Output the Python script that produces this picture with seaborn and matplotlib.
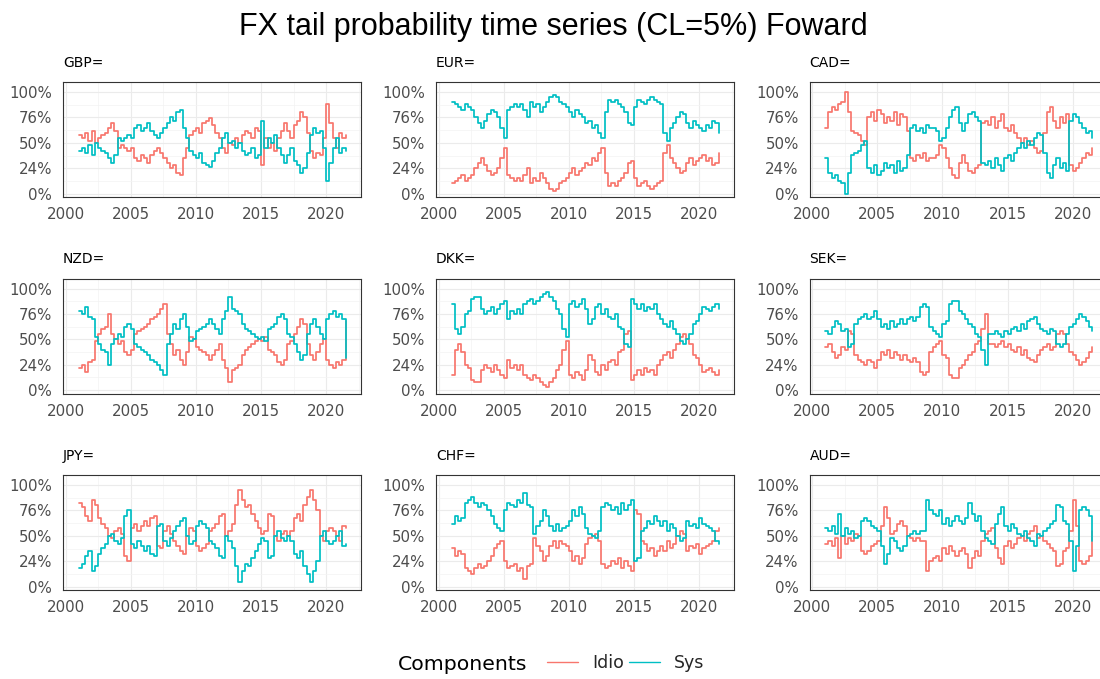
import numpy as np
import pandas as pd
import matplotlib
matplotlib.use("Agg")
import matplotlib.pyplot as plt
from matplotlib.lines import Line2D
from matplotlib.ticker import FixedLocator
import seaborn as sns

# ---------------------------------------------------------------------------
# Data: quarterly idiosyncratic share of the tail probability (percent),
# 2001Q1 .. 2021Q3; the systematic share is the complement.
# ---------------------------------------------------------------------------
currencies = ["GBP=", "EUR=", "CAD=", "NZD=", "DKK=", "SEK=", "JPY=", "CHF=", "AUD="]
components = ["Idio", "Sys"]
x_ticks = [2000, 2005, 2010, 2015, 2020]
y_ticks = [0.0, 0.25, 0.50, 0.75, 1.0]
y_tick_labels = ["0%", "24%", "50%", "76%", "100%"]
start_year = 2001.0
step_years = 0.25

gbp_idio = [58, 55, 60, 52, 62, 50, 55, 58, 60, 65, 70, 62, 45, 48, 45, 42,
            45, 35, 32, 38, 35, 30, 38, 42, 45, 40, 35, 30, 25, 28, 20, 18,
            35, 45, 58, 62, 65, 60, 70, 72, 74, 68, 60, 55, 45, 40, 50, 48,
            55, 50, 58, 62, 60, 55, 65, 62, 28, 55, 45, 50, 42, 55, 62, 70,
            62, 55, 68, 72, 80, 75, 60, 42, 35, 40, 38, 55, 88, 70, 55, 45,
            60, 55, 58]
eur_idio = [10, 12, 15, 18, 12, 15, 18, 25, 30, 35, 28, 22, 18, 20, 25, 35,
            45, 18, 15, 12, 15, 12, 18, 25, 10, 15, 12, 20, 15, 10, 5, 3,
            5, 10, 12, 15, 20, 25, 18, 22, 25, 30, 28, 35, 32, 40, 45, 20,
            8, 10, 8, 12, 15, 20, 30, 32, 15, 8, 10, 12, 8, 5, 8, 10,
            12, 40, 48, 35, 30, 25, 20, 22, 30, 35, 28, 32, 35, 38, 32, 35,
            28, 30, 40]
cad_idio = [65, 80, 85, 82, 88, 90, 100, 80, 62, 60, 58, 52, 48, 75, 80, 72,
            82, 78, 70, 75, 72, 80, 68, 78, 75, 62, 35, 32, 38, 35, 40, 32,
            35, 35, 38, 48, 45, 35, 25, 18, 15, 30, 38, 30, 22, 20, 25, 28,
            70, 72, 68, 75, 65, 72, 78, 65, 62, 68, 60, 55, 50, 55, 48, 52,
            45, 40, 42, 60, 80, 85, 72, 65, 75, 70, 78, 28, 22, 25, 30, 35,
            40, 38, 45]
nzd_idio = [22, 25, 18, 28, 30, 48, 55, 60, 62, 75, 55, 50, 45, 48, 38, 35,
            40, 55, 58, 60, 62, 65, 70, 72, 75, 80, 85, 55, 45, 35, 40, 30,
            25, 38, 52, 50, 42, 40, 38, 35, 30, 35, 40, 45, 30, 22, 8, 20,
            22, 25, 35, 40, 42, 45, 48, 50, 48, 52, 40, 38, 35, 28, 25, 30,
            45, 48, 55, 62, 70, 65, 45, 35, 30, 38, 45, 50, 30, 25, 22, 28,
            25, 30, 68]
dkk_idio = [15, 40, 45, 38, 25, 22, 10, 8, 8, 20, 25, 22, 18, 25, 20, 15,
            12, 30, 22, 25, 20, 25, 15, 12, 10, 15, 12, 8, 5, 3, 8, 12,
            20, 25, 40, 48, 15, 12, 18, 15, 10, 20, 35, 30, 18, 15, 25, 20,
            28, 30, 25, 38, 40, 55, 58, 10, 15, 20, 15, 22, 18, 20, 15, 25,
            30, 35, 38, 32, 40, 45, 52, 55, 50, 45, 35, 32, 25, 18, 20, 22,
            18, 15, 20]
sek_idio = [42, 45, 38, 32, 35, 42, 40, 58, 55, 35, 30, 28, 25, 30, 28, 22,
            30, 38, 35, 40, 32, 38, 35, 30, 35, 30, 28, 32, 28, 18, 15, 18,
            38, 42, 45, 48, 35, 32, 15, 12, 12, 22, 25, 30, 35, 38, 45, 48,
            60, 75, 45, 45, 42, 45, 48, 42, 45, 40, 38, 42, 35, 40, 32, 30,
            28, 35, 40, 42, 45, 40, 42, 55, 58, 55, 45, 38, 35, 30, 25, 28,
            32, 38, 42]
jpy_idio = [82, 78, 70, 65, 85, 80, 68, 62, 58, 50, 48, 55, 58, 52, 30, 25,
            58, 62, 55, 60, 65, 60, 68, 70, 40, 38, 55, 60, 52, 45, 40, 35,
            32, 50, 58, 55, 40, 35, 38, 42, 55, 58, 62, 70, 72, 50, 55, 62,
            80, 95, 85, 78, 80, 72, 65, 58, 52, 55, 72, 70, 50, 45, 52, 55,
            50, 55, 68, 72, 65, 80, 88, 95, 85, 75, 50, 45, 55, 58, 55, 50,
            45, 60, 58]
chf_idio = [38, 30, 35, 32, 18, 15, 12, 18, 22, 18, 20, 25, 30, 38, 42, 45,
            25, 18, 20, 22, 15, 18, 8, 20, 22, 48, 40, 35, 25, 30, 40, 45,
            38, 45, 42, 40, 35, 25, 30, 22, 28, 42, 48, 50, 52, 45, 22, 18,
            20, 25, 22, 28, 18, 25, 20, 15, 75, 72, 45, 42, 35, 38, 30, 35,
            40, 35, 45, 38, 42, 50, 55, 52, 35, 40, 38, 42, 32, 38, 40, 42,
            45, 55, 58]
aud_idio = [42, 45, 40, 48, 28, 50, 42, 48, 45, 52, 50, 35, 32, 35, 40, 42,
            45, 60, 78, 68, 52, 55, 62, 65, 60, 50, 48, 45, 48, 45, 45, 15,
            25, 28, 30, 25, 38, 32, 40, 35, 30, 35, 38, 32, 18, 28, 35, 30,
            45, 52, 55, 58, 38, 28, 22, 40, 45, 38, 42, 48, 50, 45, 52, 55,
            60, 48, 50, 45, 42, 38, 35, 20, 22, 35, 38, 55, 85, 60, 25, 22,
            25, 30, 55]

idio_by_currency = {
    "GBP=": gbp_idio, "EUR=": eur_idio, "CAD=": cad_idio,
    "NZD=": nzd_idio, "DKK=": dkk_idio, "SEK=": sek_idio,
    "JPY=": jpy_idio, "CHF=": chf_idio, "AUD=": aud_idio,
}

# Long-format table: one row per currency / component / quarter
rows = []
for cur, idio in idio_by_currency.items():
    idio = np.asarray(idio, dtype=float) / 100.0
    dates = start_year + step_years * np.arange(len(idio))
    for comp, vals in (("Idio", idio), ("Sys", 1.0 - idio)):
        rows.append(pd.DataFrame({"currency": cur, "component": comp,
                                  "date": dates, "share": vals}))
df = pd.concat(rows, ignore_index=True)

# ---------------------------------------------------------------------------
# Styling
# ---------------------------------------------------------------------------
sns.set_style("white")
plt.rcParams["font.family"] = ["DejaVu Sans"]

palette = {"Idio": "#F8766D", "Sys": "#00BFC4"}
grid_major = "#EBEBEB"
grid_minor = "#F3F3F3"
frame_col = "#333333"
tick_text = "#4D4D4D"

W, H = 1100, 679
fig = plt.figure(figsize=(W / 100, H / 100), dpi=100)

col_left = [63, 436, 809.5]
row_top = [82, 278.5, 475]
panel_w, panel_h = 298, 115

for i, cur in enumerate(currencies):
    r, c = divmod(i, 3)
    ax = fig.add_axes([col_left[c] / W, 1 - (row_top[r] + panel_h) / H,
                       panel_w / W, panel_h / H])
    sub = df[df["currency"] == cur]
    sns.lineplot(data=sub, x="date", y="share", hue="component",
                 hue_order=components, palette=palette, estimator=None,
                 drawstyle="steps-post", linewidth=1.25, legend=False, ax=ax)

    ax.set_xlim(1999.8, 2022.67)
    ax.set_ylim(-0.033, 1.099)
    ax.set_xticks(x_ticks)
    ax.set_xticklabels([str(t) for t in x_ticks])
    ax.set_yticks(y_ticks)
    ax.set_yticklabels(y_tick_labels)
    ax.xaxis.set_minor_locator(FixedLocator([2002.5, 2007.5, 2012.5, 2017.5, 2022.5]))
    ax.yaxis.set_minor_locator(FixedLocator([0.125, 0.375, 0.625, 0.875]))
    ax.grid(which="major", color=grid_major, linewidth=0.8)
    ax.grid(which="minor", color=grid_minor, linewidth=0.5)
    ax.set_axisbelow(True)
    ax.tick_params(which="minor", length=0)
    ax.tick_params(which="major", length=3.2, width=0.8, color=frame_col,
                   labelsize=10.8, labelcolor=tick_text)
    ax.tick_params(axis="y", pad=4.5)
    ax.tick_params(axis="x", pad=4)
    for sp in ax.spines.values():
        sp.set_color(frame_col)
        sp.set_linewidth(0.8)
    ax.set_xlabel("")
    ax.set_ylabel("")
    ax.set_title(cur, loc="left", fontsize=10, pad=11, color="black")

fig.text(553.5 / W, 1 - 35.5 / H, "FX tail probability time series (CL=5%) Foward",
         ha="center", va="baseline", fontsize=22, family="Liberation Sans",
         color="black")

fig.text(398 / W, 1 - 669.5 / H, "Components", ha="left", va="baseline",
         fontsize=14.7, color="black")
handles = [Line2D([0], [0], color=palette[c], linewidth=1.0) for c in components]
fig.legend(handles, components, loc="center left",
           bbox_to_anchor=(547 / W, 1 - 663 / H), ncol=2, frameon=False,
           fontsize=12.5, handlelength=1.8, handletextpad=0.8,
           columnspacing=0.3, borderpad=0, borderaxespad=0)

fig.savefig("out.png", dpi=100)
